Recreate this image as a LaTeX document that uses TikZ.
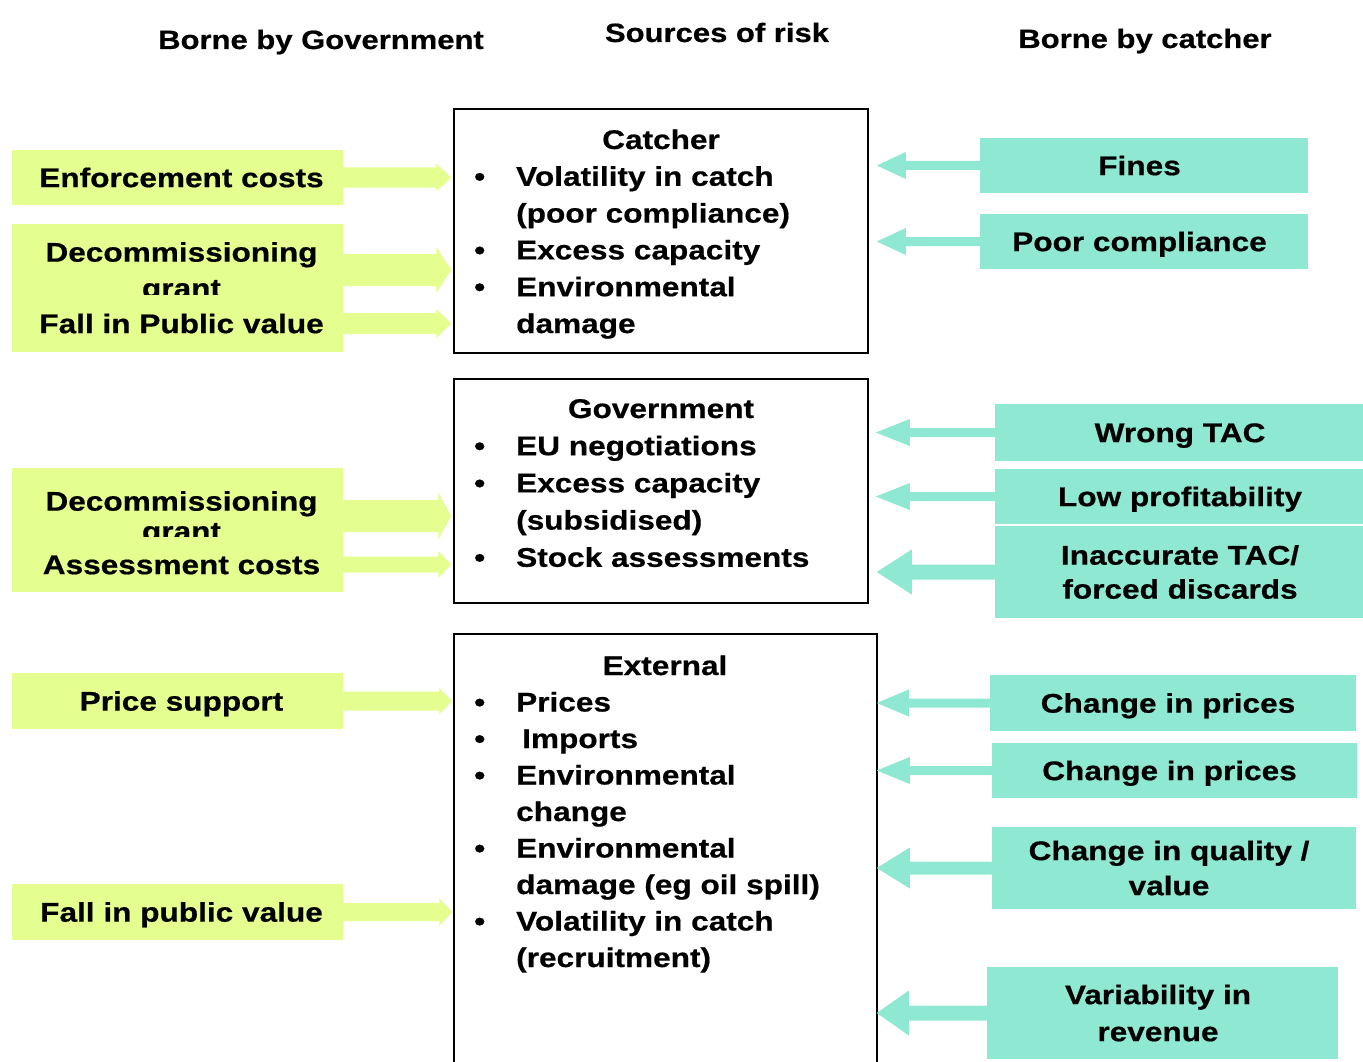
\documentclass[tikz,border=0pt]{standalone}
\usepackage{fontspec}
\setmainfont{Liberation Sans}[FakeStretch=1.17, FakeBold=0.6]
\usetikzlibrary{calc}
\definecolor{lgreen}{RGB}{228,255,143}
\definecolor{lteal}{RGB}{143,232,209}
% #1 start, #2 tip, #3 shaft half height, #4 head half height, #5 signed offset of head base from tip, #6 colour
\newcommand\blockarrow[6]{%
  \fill[#6] ($(#1)+(0,-#3)$) -- ($(#2)+(#5,-#3)$) -- ($(#2)+(#5,-#4)$) -- (#2)
    -- ($(#2)+(#5,#4)$) -- ($(#2)+(#5,#3)$) -- ($(#1)+(0,#3)$) -- cycle;}
\tikzset{
  basefont/.style={font=\fontsize{27}{36.8}\selectfont\bfseries, inner sep=0pt},
  gbox/.style={basefont, fill=lgreen, text height=19.3pt, text depth=0pt, align=center, minimum width=331pt},
  tbox/.style={basefont, fill=lteal, text height=19.3pt, text depth=0pt, align=center},
  twoline/.style={font=\fontsize{27}{#1}\selectfont\bfseries, text height=19.3pt+#1, text depth=0pt},
  cbox/.style={draw=black, line width=1.5pt, inner sep=0pt},
  line/.style={basefont, anchor=base west},
  title/.style={basefont, anchor=base},
  head/.style={font=\fontsize{26.5}{30}\selectfont\bfseries, inner sep=0pt, anchor=base},
}
\newcommand\bul{\makebox[42pt][l]{\textbullet}}
\newcommand\rs{\hspace*{8pt}}
\newcommand\ls{\hspace*{9pt}}
\begin{document}
\begin{tikzpicture}[x=1pt,y=-1pt]
\useasboundingbox (0,0) rectangle (1363,1062);
\clip (0,0) rectangle (1363,1062);

% headers
\node[head] (hgov) at (321,49) {Borne by Government};
\node[head] (hsrc) at (717,42) {Sources of risk};
\node[head] (hcat) at (1145,48) {Borne by catcher};

% central boxes
\node[cbox, minimum width=414pt, minimum height=244pt] (catcher) at (661,231) {};
\node[cbox, minimum width=414pt, minimum height=224pt] (govt) at (661,491) {};
\node[cbox, minimum width=423pt, minimum height=446pt] (ext) at (665.5,857) {};

% catcher box text
\node[title] (c0) at (661,149) {Catcher};
\node[line] (c1) at (474,185.8) {\bul Volatility in catch};
\node[line] (c2) at (516,222.6) {(poor compliance)};
\node[line] (c3) at (474,259.4) {\bul Excess capacity};
\node[line] (c4) at (474,296.2) {\bul Environmental};
\node[line] (c5) at (516,333) {damage};

% government box text
\node[title] (g0) at (661,418) {Government};
\node[line] (g1) at (474,455.2) {\bul EU negotiations};
\node[line] (g2) at (474,492.4) {\bul Excess capacity};
\node[line] (g3) at (516,529.6) {(subsidised)};
\node[line] (g4) at (474,566.8) {\bul Stock assessments};

% external box text
\node[title] (e0) at (665,675) {External};
\node[line] (e1) at (474,711.5) {\bul Prices};
\node[line] (e2) at (474,748) {\bul\hspace{6pt}Imports};
\node[line] (e3) at (474,784.5) {\bul Environmental};
\node[line] (e4) at (516,821) {change};
\node[line] (e5) at (474,857.5) {\bul Environmental};
\node[line] (e6) at (516,894) {damage (eg oil spill)};
\node[line] (e7) at (474,930.5) {\bul Volatility in catch};
\node[line] (e8) at (516,967) {(recruitment)};

% left (government-borne) boxes
\node[gbox, minimum height=92pt, twoline=36pt] (dec1) at (177.5,270) {\rs Decommissioning\\\rs grant};
\node[gbox, minimum height=55pt] (enf) at (177.5,177.5) {\rs Enforcement costs};
\node[gbox, minimum height=57pt] (fall1) at (177.5,323.5) {\rs Fall in Public value};
\node[gbox, minimum height=96pt, twoline=30pt] (dec2) at (177.5,516) {\rs Decommissioning\\\rs grant};
\node[gbox, minimum height=55pt] (assess) at (177.5,564.5) {\rs Assessment costs};
\node[gbox, minimum height=56pt] (price) at (177.5,701) {\rs Price support};
\node[gbox, minimum height=56pt] (fall2) at (177.5,912) {\rs Fall in public value};

\coordinate (t-enf) at ($(catcher.west |- enf.east)+(-2,0)$);
\coordinate (t-dec1) at ($(catcher.west |- dec1.east)+(-2,0)$);
\coordinate (t-fall1) at ($(catcher.west |- fall1.east)+(-2,0)$);
\coordinate (t-dec2) at ($(govt.west |- dec2.east)+(-2,0)$);
\coordinate (t-assess) at ($(govt.west |- assess.east)+(-2,0)$);
\coordinate (t-price) at ($(ext.west |- price.east)+(-1,0)$);
\coordinate (t-fall2) at ($(ext.west |- fall2.east)+(-1,0)$);

\blockarrow{enf.east}{t-enf}{10}{14}{-15}{lgreen}
\blockarrow{dec1.east}{t-dec1}{16}{23}{-15}{lgreen}
\blockarrow{fall1.east}{t-fall1}{10.5}{14.5}{-15}{lgreen}
\blockarrow{dec2.east}{t-dec2}{16}{23.5}{-13}{lgreen}
\blockarrow{assess.east}{t-assess}{8}{13.5}{-13}{lgreen}
\blockarrow{price.east}{t-price}{9.5}{13}{-13}{lgreen}
\blockarrow{fall2.east}{t-fall2}{9}{14}{-13}{lgreen}

% right (catcher-borne) boxes
\node[tbox, minimum width=328pt, minimum height=55pt] (fines) at (1144,165.5) {Fines\ls};
\node[tbox, minimum width=328pt, minimum height=55pt] (poor) at (1144,241.5) {Poor compliance\ls};
\node[tbox, minimum width=370pt, minimum height=57pt] (wrong) at (1180,432.5) {Wrong TAC};
\node[tbox, minimum width=370pt, minimum height=55pt] (lowp) at (1180,496.5) {Low profitability};
\node[tbox, minimum width=370pt, minimum height=92pt, twoline=34pt] (inacc) at (1180,572) {Inaccurate TAC/\\forced discards};
\node[tbox, minimum width=366pt, minimum height=56pt] (ch1) at (1173,703) {Change in prices\hspace*{10pt}};
\node[tbox, minimum width=365pt, minimum height=55pt] (ch2) at (1174.5,770.5) {Change in prices\hspace*{10pt}};
\node[tbox, minimum width=364pt, minimum height=82pt, twoline=35pt] (qual) at (1174,868) {Change in quality /\hspace*{10pt}\\value\hspace*{10pt}};
\node[tbox, minimum width=351pt, minimum height=92pt, twoline=37pt] (var) at (1162.5,1013) {Variability in\ls\\revenue\ls};

\coordinate (t-fines) at ($(catcher.east |- fines.west)+(8,0)$);
\coordinate (t-poor) at ($(catcher.east |- poor.west)+(8,0)$);
\coordinate (t-wrong) at ($(govt.east |- wrong.west)+(7,0)$);
\coordinate (t-lowp) at ($(govt.east |- lowp.west)+(7,0)$);
\coordinate (t-inacc) at ($(govt.east |- inacc.west)+(8,0)$);
\coordinate (t-ch1) at ($(ext.east |- ch1.west)+(-1,0)$);
\coordinate (t-ch2) at ($(ext.east |- ch2.west)+(-1,0)$);
\coordinate (t-qual) at ($(ext.east |- qual.west)+(-1,0)$);
\coordinate (t-var) at ($(ext.east |- var.west)+(-1,0)$);

\blockarrow{fines.west}{t-fines}{4.5}{13.5}{29}{lteal}
\blockarrow{poor.west}{t-poor}{4.5}{13.5}{29}{lteal}
\blockarrow{wrong.west}{t-wrong}{4.5}{13.5}{34}{lteal}
\blockarrow{lowp.west}{t-lowp}{4.5}{13.5}{34}{lteal}
\blockarrow{inacc.west}{t-inacc}{7.5}{22.5}{35}{lteal}
\blockarrow{ch1.west}{t-ch1}{4.5}{13.5}{32}{lteal}
\blockarrow{ch2.west}{t-ch2}{4.5}{13.5}{33}{lteal}
\blockarrow{qual.west}{t-qual}{6.5}{20.5}{33}{lteal}
\blockarrow{var.west}{t-var}{7.5}{22.5}{32}{lteal}
\end{tikzpicture}
\end{document}
